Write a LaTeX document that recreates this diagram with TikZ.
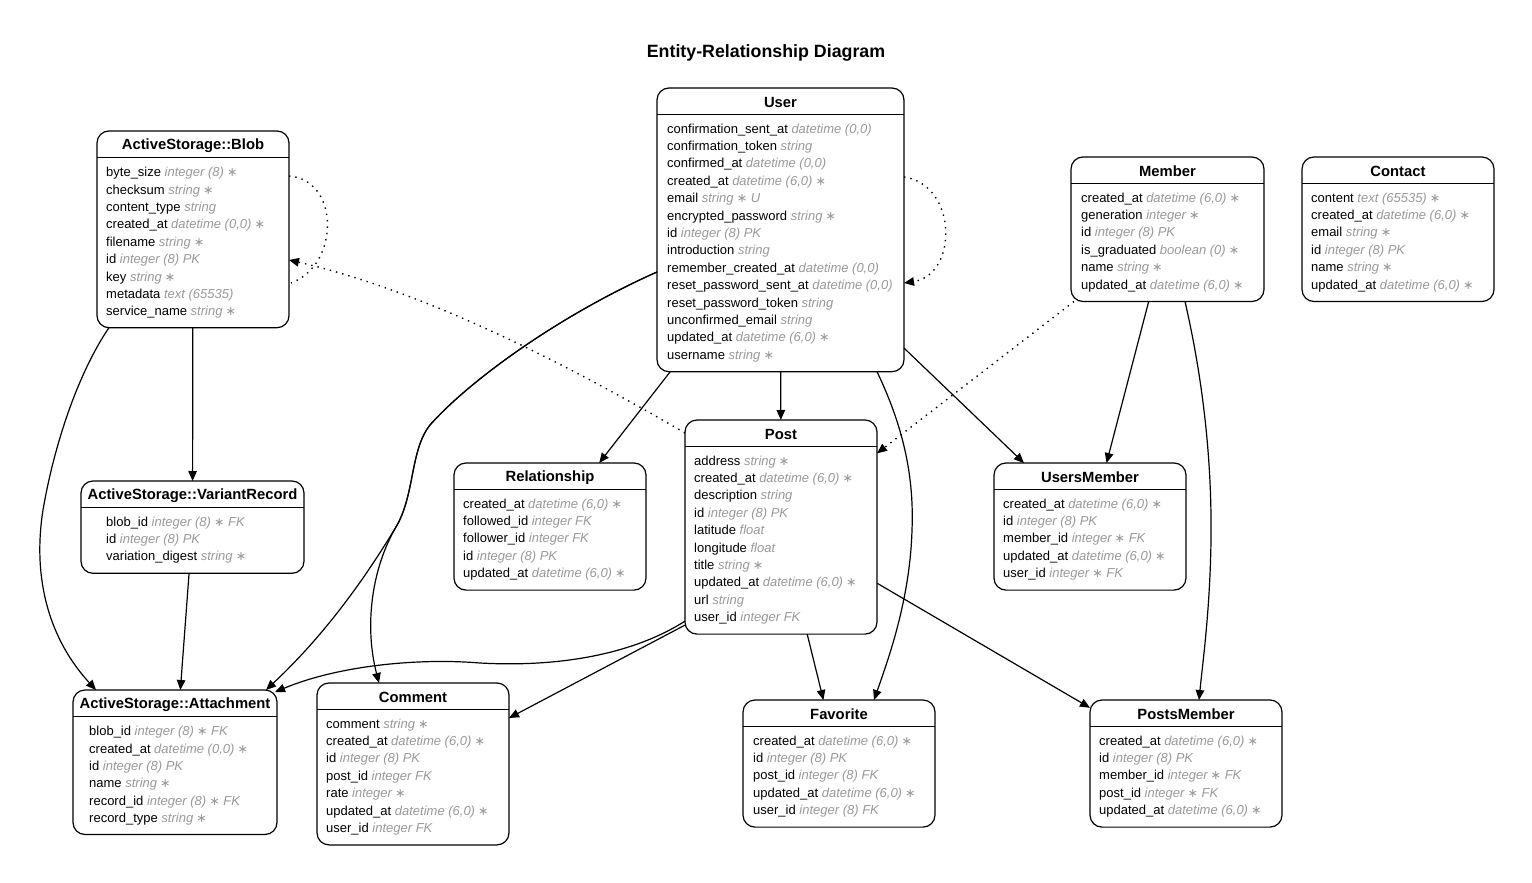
\documentclass[tikz,border=0pt]{standalone}
\usepackage{fontspec}
\setmainfont{Liberation Sans}
\newfontfamily\symfont{DejaVu Sans}
\usetikzlibrary{arrows.meta,calc}
\definecolor{typegray}{HTML}{999999}
\newcounter{rowi}
\newcommand\st{\hspace{-0.5pt}{\symfont\fontsize{12.5}{13}\selectfont ∗}}
\newcommand\startrows[3]{\gdef\rname{#1}\gdef\rx{#2}\gdef\ry{#3}\setcounter{rowi}{0}}
\newcommand\arow[2]{\stepcounter{rowi}\pgfmathsetmacro\rowyy{\ry+4.6+17.4*(\arabic{rowi}-1)}\node[attr] (\rname-\arabic{rowi}) at (\rx,\rowyy) {#1\ {\color{typegray}\itshape #2}};}
\newcommand\entity[6]{%
  \pgfmathsetmacro\eh{57.5+(#6-1)*17.4}
  \node[entbox, minimum width=#5pt, minimum height=\eh pt, anchor=north west] (#1) at (#3,#4) {};
  \node[enttitle] (#1-title) at ($(#1.north)+(0,14.5)$) {#2};
  \draw[sepline] ($(#1.north west)+(0,26.5)$) -- ($(#1.north east)+(0,26.5)$);
}
\tikzset{
  entbox/.style={draw, line width=1.2pt, rounded corners=12pt, fill=white, inner sep=0pt, outer sep=0pt},
  enttitle/.style={font=\fontsize{14.8}{17}\selectfont\bfseries, inner sep=0pt},
  attr/.style={anchor=base west, inner sep=0pt, font=\fontsize{13}{15}\selectfont},
  sepline/.style={line width=1.2pt},
  rel/.style={line width=1.2pt, -{Triangle[length=10pt,width=8.5pt]}},
  ind/.style={line width=1.4pt, dash pattern=on 1.4pt off 5pt},
  indtip/.style={ind, -{Triangle[length=10pt,width=8.5pt]}},
}
\begin{document}
\begin{tikzpicture}[x=1pt,y=-1pt]
\fill[white] (0,0) rectangle (1532,883);
\useasboundingbox (0,0) rectangle (1532,883);

\node[font=\fontsize{17.8}{20}\selectfont\bfseries, inner sep=0pt] (title) at (766,53) {Entity-Relationship Diagram};

% ---------- entities ----------
\entity{blob}{ActiveStorage::Blob}{97}{131}{192}{9}
\startrows{blob}{106}{172}
\arow{byte\_size}{integer (8) \st}
\arow{checksum}{string \st}
\arow{content\_type}{string}
\arow{created\_at}{datetime (0,0) \st}
\arow{filename}{string \st}
\arow{id}{integer (8) PK}
\arow{key}{string \st}
\arow{metadata}{text (65535)}
\arow{service\_name}{string \st}

\entity{user}{User}{657}{88}{247}{14}
\startrows{user}{667}{128.5}
\arow{confirmation\_sent\_at}{datetime (0,0)}
\arow{confirmation\_token}{string}
\arow{confirmed\_at}{datetime (0,0)}
\arow{created\_at}{datetime (6,0) \st}
\arow{email}{string \st\ U}
\arow{encrypted\_password}{string \st}
\arow{id}{integer (8) PK}
\arow{introduction}{string}
\arow{remember\_created\_at}{datetime (0,0)}
\arow{reset\_password\_sent\_at}{datetime (0,0)}
\arow{reset\_password\_token}{string}
\arow{unconfirmed\_email}{string}
\arow{updated\_at}{datetime (6,0) \st}
\arow{username}{string \st}

\entity{member}{Member}{1071}{157}{193}{6}
\startrows{member}{1081}{197.5}
\arow{created\_at}{datetime (6,0) \st}
\arow{generation}{integer \st}
\arow{id}{integer (8) PK}
\arow{is\_graduated}{boolean (0) \st}
\arow{name}{string \st}
\arow{updated\_at}{datetime (6,0) \st}

\entity{contact}{Contact}{1302}{157}{192}{6}
\startrows{contact}{1311}{197.5}
\arow{content}{text (65535) \st}
\arow{created\_at}{datetime (6,0) \st}
\arow{email}{string \st}
\arow{id}{integer (8) PK}
\arow{name}{string \st}
\arow{updated\_at}{datetime (6,0) \st}

\entity{variant}{ActiveStorage::VariantRecord}{81}{481}{223}{3}
\startrows{variant}{106}{521.5}
\arow{blob\_id}{integer (8) \st\ FK}
\arow{id}{integer (8) PK}
\arow{variation\_digest}{string \st}

\entity{relationship}{Relationship}{454}{463}{192}{5}
\startrows{relationship}{463}{503.5}
\arow{created\_at}{datetime (6,0) \st}
\arow{followed\_id}{integer FK}
\arow{follower\_id}{integer FK}
\arow{id}{integer (8) PK}
\arow{updated\_at}{datetime (6,0) \st}

\entity{post}{Post}{685}{420}{192}{10}
\startrows{post}{694}{460.5}
\arow{address}{string \st}
\arow{created\_at}{datetime (6,0) \st}
\arow{description}{string}
\arow{id}{integer (8) PK}
\arow{latitude}{float}
\arow{longitude}{float}
\arow{title}{string \st}
\arow{updated\_at}{datetime (6,0) \st}
\arow{url}{string}
\arow{user\_id}{integer FK}

\entity{usersmember}{UsersMember}{994}{463}{192}{5}
\startrows{usersmember}{1003}{503.5}
\arow{created\_at}{datetime (6,0) \st}
\arow{id}{integer (8) PK}
\arow{member\_id}{integer \st\ FK}
\arow{updated\_at}{datetime (6,0) \st}
\arow{user\_id}{integer \st\ FK}

\entity{attachment}{ActiveStorage::Attachment}{73}{690}{204}{6}
\startrows{attachment}{89}{731}
\arow{blob\_id}{integer (8) \st\ FK}
\arow{created\_at}{datetime (0,0) \st}
\arow{id}{integer (8) PK}
\arow{name}{string \st}
\arow{record\_id}{integer (8) \st\ FK}
\arow{record\_type}{string \st}

\entity{comment}{Comment}{317}{683}{192}{7}
\startrows{comment}{326}{723.5}
\arow{comment}{string \st}
\arow{created\_at}{datetime (6,0) \st}
\arow{id}{integer (8) PK}
\arow{post\_id}{integer FK}
\arow{rate}{integer \st}
\arow{updated\_at}{datetime (6,0) \st}
\arow{user\_id}{integer FK}

\entity{favorite}{Favorite}{743}{700}{192}{5}
\startrows{favorite}{753}{740.5}
\arow{created\_at}{datetime (6,0) \st}
\arow{id}{integer (8) PK}
\arow{post\_id}{integer (8) FK}
\arow{updated\_at}{datetime (6,0) \st}
\arow{user\_id}{integer (8) FK}

\entity{postsmember}{PostsMember}{1090}{700}{192}{5}
\startrows{postsmember}{1099}{740.5}
\arow{created\_at}{datetime (6,0) \st}
\arow{id}{integer (8) PK}
\arow{member\_id}{integer \st\ FK}
\arow{post\_id}{integer \st\ FK}
\arow{updated\_at}{datetime (6,0) \st}

% ---------- straight relations ----------
\draw[rel] (user) -- (relationship);
\draw[rel] (user) -- (post);
\draw[rel] (user) -- (usersmember);
\draw[rel] (member) -- (usersmember);
\draw[rel] (post) -- (favorite);
\draw[rel] (post) -- (postsmember);
\draw[rel] (blob) -- (variant);
\draw[rel] (variant) -- (attachment);
\draw[rel] ($(post.south west)+(0,-9)$) -- ($(comment.north east)+(0,35)$);

% ---------- curved relations ----------
\draw[rel] ($(user.south east)+(-27,0)$) .. controls (905,430) and (914,480) .. (912,530)
  .. controls (910,600) and (888,660) .. ($(favorite.north)+(35,0)$);
\draw[rel] ($(member.south)+(17.5,0)$) .. controls (1203,380) and (1212,460) .. (1211,540)
  .. controls (1210,610) and (1203,660) .. ($(postsmember.north)+(13,0)$);
\draw[rel] ($(blob.south west)+(12,0)$) .. controls (80,370) and (55,440) .. (43,510)
  .. controls (32,580) and (50,640) .. ($(attachment.north west)+(23,0)$);
\draw[rel] ($(user.north west)+(0,184)$) .. controls (560,315) and (470,380) .. (430,425)
  .. controls (410,450) and (415,495) .. (396,527)
  .. controls (370,570) and (330,630) .. ($(attachment.north east)+(-11,0)$);
\draw[rel] ($(user.north west)+(0,184)$) .. controls (560,315) and (470,380) .. (430,425)
  .. controls (410,450) and (415,495) .. (396,527)
  .. controls (372,568) and (364,625) .. ($(comment.north)+(-34,0)$);
\draw[rel] ($(post.south west)+(0,-13)$) .. controls (640,650) and (570,668) .. (480,663)
  .. controls (420,658) and (340,665) .. ($(attachment.north east)+(-2,2)$);

% ---------- indirect (dotted) relations ----------
\draw[indtip] ($(post.north west)+(0,13)$) .. controls (560,360) and (420,290) .. ($(blob.north east)+(0,129)$);
\draw[ind] ($(blob.north east)+(0,45)$) .. controls (340,180) and (340,265) .. ($(blob.north east)+(2,152)$);
\draw[indtip] ($(user.north east)+(0,89)$) .. controls (958,185) and (958,275) .. ($(user.north east)+(0,195)$);
\draw[indtip] (member) -- (post);
\end{tikzpicture}
\end{document}
